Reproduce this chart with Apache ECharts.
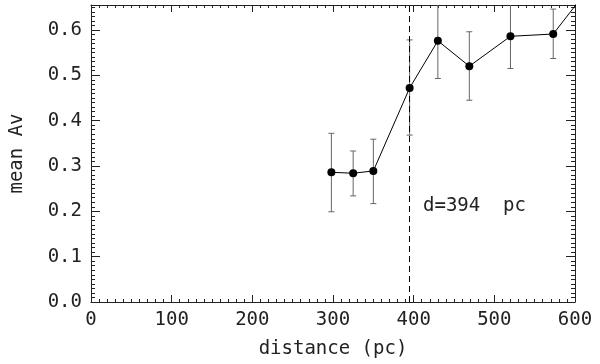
<!DOCTYPE html>
<html>
<head>
<meta charset="utf-8">
<script src="https://cdn.jsdelivr.net/npm/echarts@6/dist/echarts.min.js"></script>
<style>
  html, body { margin: 0; padding: 0; background: #fff; }
  #chart { width: 600px; height: 364px; }
</style>
</head>
<body>
<div id="chart"></div>
<script>
// distance in pc, mean Av and its error bar ends
const distances = [298, 325, 350, 395, 430, 469, 520, 573, 625]
const meanAv = [0.286, 0.284, 0.289, 0.472, 0.576, 0.520, 0.586, 0.591, 0.71]
const avLow = [0.199, 0.234, 0.217, 0.368, 0.493, 0.445, 0.515, 0.537]
const avHigh = [0.372, 0.333, 0.359, 0.578, 0.68, 0.596, 0.68, 0.646]
const cloudDistance = 394

const font = 'DejaVu Sans Mono'
const ink = '#222'

const chart = echarts.init(document.getElementById('chart'))

function frameAxis(pos, isX) {
  return {
    type: 'value',
    position: pos,
    min: 0,
    max: isX ? 600 : 0.655,
    interval: isX ? 100 : 0.1,
    axisLine: { show: true, onZero: false, lineStyle: { color: ink, width: 1 } },
    axisTick: { show: true, inside: true, length: isX ? 7 : 9, lineStyle: { color: ink } },
    minorTick: { show: true, splitNumber: 10, length: isX ? 3 : 4, lineStyle: { color: ink } },
    splitLine: { show: false },
    axisLabel: { show: false }
  }
}

const xBottom = frameAxis('bottom', true)
xBottom.name = 'distance (pc)'
xBottom.nameLocation = 'middle'
xBottom.nameGap = 38
xBottom.nameTextStyle = { fontFamily: font, fontSize: 19, color: ink }
xBottom.axisLabel = { show: true, margin: 9, fontFamily: font, fontSize: 19, color: ink }

const yLeft = frameAxis('left', false)
yLeft.name = 'mean Av'
yLeft.nameLocation = 'middle'
yLeft.nameGap = 64
yLeft.nameTextStyle = { fontFamily: font, fontSize: 19, color: ink }
yLeft.axisLabel = {
  show: true, margin: 9, fontFamily: font, fontSize: 19, color: ink,
  showMaxLabel: false,
  formatter: v => v.toFixed(1)
}

const errorData = avLow.map((lo, i) => [distances[i], lo, avHigh[i]])

chart.setOption({
  animation: false,
  grid: { left: 91, right: 25, top: 5, bottom: 62 },
  xAxis: [xBottom, frameAxis('top', true)],
  yAxis: [yLeft, frameAxis('right', false)],
  series: [
    {
      type: 'custom',
      xAxisIndex: 0,
      yAxisIndex: 0,
      data: errorData,
      renderItem(params, api) {
        const rect = params.coordSys
        const lo = api.coord([api.value(0), api.value(1)])
        const hi = api.coord([api.value(0), api.value(2)])
        const top = Math.max(hi[1], rect.y)
        const style = { stroke: '#666', lineWidth: 1 }
        const kids = [
          { type: 'line', shape: { x1: lo[0], y1: lo[1], x2: lo[0], y2: top }, style },
          { type: 'line', shape: { x1: lo[0] - 3, y1: lo[1], x2: lo[0] + 3, y2: lo[1] }, style }
        ]
        if (hi[1] >= rect.y) {
          kids.push({ type: 'line', shape: { x1: hi[0] - 3, y1: hi[1], x2: hi[0] + 3, y2: hi[1] }, style })
        }
        return { type: 'group', children: kids }
      },
      z: 1
    },
    {
      type: 'line',
      data: distances.map((d, i) => [d, meanAv[i]]),
      clip: true,
      symbol: 'circle',
      symbolSize: 8,
      itemStyle: { color: '#000' },
      lineStyle: { color: '#000', width: 1 },
      z: 3,
      markLine: {
        silent: true,
        symbol: 'none',
        label: { show: false },
        lineStyle: { color: '#000', type: [6, 4], width: 1 },
        data: [{ xAxis: cloudDistance }]
      }
    }
  ],
  graphic: [{
    type: 'text',
    left: 423,
    top: 197,
    style: { text: 'd=' + cloudDistance + '  pc', font: '19px ' + font, fill: ink }
  }]
})
</script>
</body>
</html>
